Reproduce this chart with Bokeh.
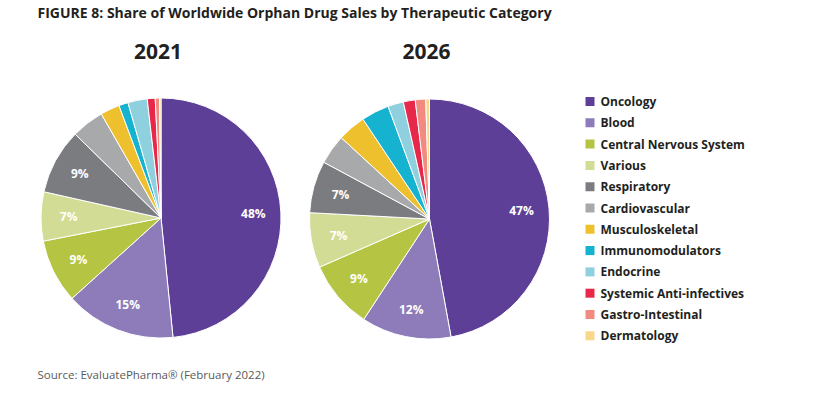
import numpy as np
from bokeh.plotting import figure
from bokeh.models import Range1d, ColumnDataSource, Label
from bokeh.core.properties import value
from bokeh.embed import file_html
from bokeh.resources import INLINE

categories = ["Oncology", "Blood", "Central Nervous System", "Various", "Respiratory",
              "Cardiovascular", "Musculoskeletal", "Immunomodulators", "Endocrine",
              "Systemic  Anti-infectives", "Gastro-Intestinal", "Dermatology"]
colors = ["#5d3f97", "#8e7cba", "#b5c543", "#d3dc95", "#7b7c7f", "#a8a9ab",
          "#eec02e", "#15b3cf", "#8fd0de", "#e8284a", "#f28a80", "#f8d78b"]
share_2021 = [48.4, 14.9, 8.6, 6.6, 8.8, 4.4, 2.6, 1.25, 2.6, 1.07, 0.57, 0.2]
share_2026 = [47.1, 12.1, 9.2, 7.4, 7.0, 4.0, 3.8, 3.75, 2.1, 1.6, 1.4, 0.5]
labels_2021 = ["48%", "15%", "9%", "7%", "9%", "", "", "", "", "", "", ""]
labels_2026 = ["47%", "12%", "9%", "7%", "7%", "", "", "", "", "", "", ""]
years = ["2021", "2026"]

TITLE = "FIGURE 8: Share of Worldwide Orphan Drug Sales by Therapeutic Category"
SOURCE = "Source: EvaluatePharma\u00ae (February 2022)"
FONT = "Open Sans"
DARK = "#231f20"

W, H = 816, 392
p = figure(width=W, height=H, output_backend="svg", toolbar_location=None,
           x_range=Range1d(0, W), y_range=Range1d(0, H),
           min_border=0, outline_line_color=None)
p.axis.visible = False
p.grid.visible = False
p.background_fill_color = "white"


def Y(img_y):
    return H - img_y


R = 120
centers = [(160.5, 217.5), (429, 218.5)]
for (cx, cy), shares, labs, yr in zip(centers, [share_2021, share_2026],
                                      [labels_2021, labels_2026], years):
    v = np.array(shares, dtype=float)
    frac = v / v.sum()
    cum = np.concatenate([[0], np.cumsum(frac)])
    start = np.pi / 2 - cum[:-1] * 2 * np.pi
    end = np.pi / 2 - cum[1:] * 2 * np.pi
    src = ColumnDataSource(dict(start=start, end=end, color=colors))
    p.wedge(x=cx, y=Y(cy), radius=R, radius_units="screen", start_angle="start",
            end_angle="end", direction="clock", fill_color="color",
            line_color="white", line_width=1, source=src)
    mid = (cum[:-1] + cum[1:]) / 2 * 2 * np.pi
    lr = 0.77 * R
    lx = cx + lr * np.sin(mid)
    ly = Y(cy) + lr * np.cos(mid)
    lsrc = ColumnDataSource(dict(x=lx, y=ly, t=labs))
    p.text(x="x", y="y", text="t", source=lsrc, text_color="white",
           text_font=value(FONT), text_font_style="bold", text_font_size="12px",
           text_align="center", text_baseline="middle")
    p.add_layout(Label(x=cx - 3, y=Y(51), text=yr, text_font=FONT,
                       text_font_style="bold", text_font_size="21px",
                       text_color=DARK, text_align="center",
                       text_baseline="middle"))

# Title and source
p.add_layout(Label(x=37, y=Y(12), text=TITLE, text_font=FONT, text_font_style="bold",
                   text_font_size="14px", text_color=DARK, text_baseline="middle"))
p.add_layout(Label(x=37, y=Y(374), text=SOURCE, text_font=FONT,
                   text_font_size="11.5px", text_color="#5a5a5a",
                   text_baseline="middle"))

# Legend
n = len(categories)
leg_y = [Y(101 + i * 21.3) for i in range(n)]
lsrc = ColumnDataSource(dict(x=[589.5] * n, y=leg_y, c=colors,
                             tx=[600] * n, t=categories))
p.rect(x="x", y="y", width=9, height=9, width_units="screen", height_units="screen",
       fill_color="c", line_color=None, source=lsrc)
p.text(x="tx", y="y", text="t", source=lsrc, text_color=DARK, text_font=value(FONT),
       text_font_style="bold", text_font_size="12px", text_baseline="middle")

open("out.html", "w").write(file_html(p, INLINE))
